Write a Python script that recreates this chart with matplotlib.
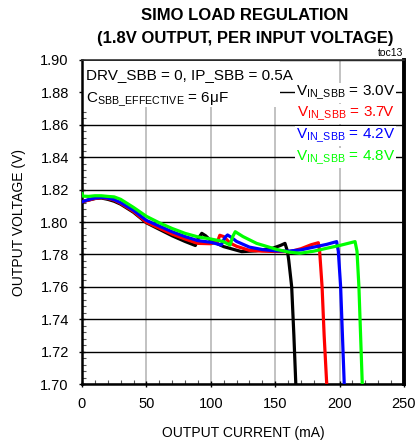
import matplotlib
matplotlib.use("Agg")
import matplotlib.pyplot as plt
from matplotlib.ticker import MultipleLocator
from matplotlib.patches import Rectangle

plt.rcParams['font.family'] = ['Liberation Sans', 'DejaVu Sans']
plt.rcParams['mathtext.fontset'] = 'custom'
plt.rcParams['mathtext.rm'] = 'Liberation Sans'
plt.rcParams['mathtext.it'] = 'Liberation Sans'

# data (mA, V)
x_30 = [0, 5, 10, 15, 20, 25, 30, 40, 50, 60, 70, 80, 88, 90, 93, 96, 100, 110, 124,
        135, 148, 154, 157.6, 159.5, 160.5, 162.8, 164.5, 166]
v_30 = [1.8125, 1.8135, 1.8145, 1.8148, 1.8140, 1.8128, 1.8110, 1.8060, 1.7995, 1.7955,
        1.7915, 1.7880, 1.7855, 1.7895, 1.7930, 1.7915, 1.7885, 1.7848, 1.7817,
        1.7822, 1.7838, 1.7855, 1.7868, 1.7820, 1.7765, 1.7600, 1.7300, 1.7000]

x_37 = [0, 5, 10, 15, 20, 25, 30, 40, 50, 60, 70, 80, 90, 100, 105, 107, 110, 115, 120,
        130, 140, 150, 161.5, 170, 178, 183.5, 184.5, 186.4, 188, 190]
v_37 = [1.8125, 1.8135, 1.8145, 1.8150, 1.8145, 1.8135, 1.8115, 1.8065, 1.7998, 1.7962,
        1.7925, 1.7895, 1.7868, 1.7866, 1.7875, 1.7918, 1.7910, 1.7870, 1.7850,
        1.7825, 1.7820, 1.7818, 1.7817, 1.7835, 1.7860, 1.7872, 1.7820, 1.7600, 1.7300, 1.7000]

x_42 = [0, 5, 10, 15, 20, 25, 30, 40, 50, 60, 70, 80, 90, 100, 108, 111, 113, 116, 120,
        130, 140, 150, 160, 170, 180, 190, 197.7, 199, 200.8, 202.2, 203.6]
v_42 = [1.8125, 1.8138, 1.8148, 1.8152, 1.8148, 1.8138, 1.8120, 1.8072, 1.8010, 1.7975,
        1.7940, 1.7910, 1.7885, 1.7875, 1.7858, 1.7905, 1.7920, 1.7905, 1.7880,
        1.7845, 1.7830, 1.7822, 1.7820, 1.7828, 1.7845, 1.7862, 1.7879, 1.7820,
        1.7600, 1.7300, 1.7000]

x_48 = [0, 0.5, 5, 10, 15, 20, 25, 30, 40, 50, 60, 70, 80, 90, 100, 109.5, 115, 117,
        119, 125, 135.6, 151, 160, 169, 180, 190, 200, 212, 213.5, 215, 216.3, 217.6]
v_48 = [1.8175, 1.8160, 1.8158, 1.8162, 1.8162, 1.8158, 1.8155, 1.8140, 1.8090, 1.8035,
        1.7995, 1.7960, 1.7930, 1.7908, 1.7895, 1.7880, 1.7858, 1.7910, 1.7940,
        1.7910, 1.7868, 1.7831, 1.7815, 1.7807, 1.7820, 1.7838, 1.7855, 1.7879,
        1.7820, 1.7600, 1.7300, 1.7000]

labels = ["3.0V", "3.7V", "4.2V", "4.8V"]
colors = ["black", "#ff0000", "#0000ff", "#00ff00"]

fig = plt.figure(figsize=(4.19, 4.47), dpi=100)
ax = fig.add_axes([0.1957, 0.1409, 0.7685, 0.7249])

for xs, vs, c in zip([x_30, x_37, x_42, x_48], [v_30, v_37, v_42, v_48], colors):
    ax.plot(xs, vs, color=c, lw=2.3, zorder=3, solid_joinstyle='round')

ax.set_xlim(0, 250)
ax.set_ylim(1.70, 1.90)
ax.xaxis.set_major_locator(MultipleLocator(50))
ax.xaxis.set_minor_locator(MultipleLocator(10))
ax.yaxis.set_major_locator(MultipleLocator(0.02))
ax.yaxis.set_minor_locator(MultipleLocator(0.004))
ax.yaxis.set_major_formatter(plt.FormatStrFormatter('%.2f'))

ax.set_axisbelow(True)
ax.grid(axis='y', which='major', color='black', lw=1.0, zorder=0.5)
ax.grid(axis='x', which='major', color='#b8b8b8', lw=1.2, zorder=0.5)

ax.tick_params(which='major', direction='inout', length=5, width=1, labelsize=10.5, pad=7)
ax.tick_params(which='minor', direction='in', length=3, width=0.8, color='#555555')
for s in ['left', 'bottom']:
    ax.spines[s].set_linewidth(1.8)
ax.spines['right'].set_linewidth(2.8)
ax.spines['top'].set_linewidth(1.2)
ax.spines['top'].set_color('#333333')

# white box behind upper-left note
ax.add_patch(Rectangle((0.003, 0.855), 0.612, 0.142, transform=ax.transAxes,
                       facecolor='white', edgecolor='none', zorder=1))
ax.text(0.012, 0.954, "DRV_SBB = 0, IP_SBB = 0.5A", transform=ax.transAxes,
        fontsize=11, va='center', ha='left', zorder=4)
ax.text(0.012, 0.877, r"C$_{\mathrm{SBB\_EFFECTIVE}}$ = 6μF", transform=ax.transAxes,
        fontsize=11, va='center', ha='left', zorder=4)

for lab, c, yy in zip(labels, colors, [0.898, 0.833, 0.765, 0.698]):
    ax.text(0.972, yy, r"V$_{\mathrm{IN\_SBB}}$ = " + lab, transform=ax.transAxes,
            color=c, fontsize=11, va='center', ha='right', zorder=4,
            bbox=dict(facecolor='white', edgecolor='none', pad=0.5))

ax.set_xlabel("OUTPUT CURRENT (mA)", fontsize=10, labelpad=11)
ax.set_ylabel("OUTPUT VOLTAGE (V)", fontsize=10, labelpad=10)

fig.text(0.585, 0.965, "SIMO LOAD REGULATION", ha='center', va='center',
         fontsize=12, fontweight='bold')
fig.text(0.585, 0.914, "(1.8V OUTPUT, PER INPUT VOLTAGE)", ha='center', va='center',
         fontsize=12, fontweight='bold')
fig.text(0.962, 0.881, "toc13", ha='right', va='center', fontsize=7.5)

fig.savefig("out.png", dpi=100)
